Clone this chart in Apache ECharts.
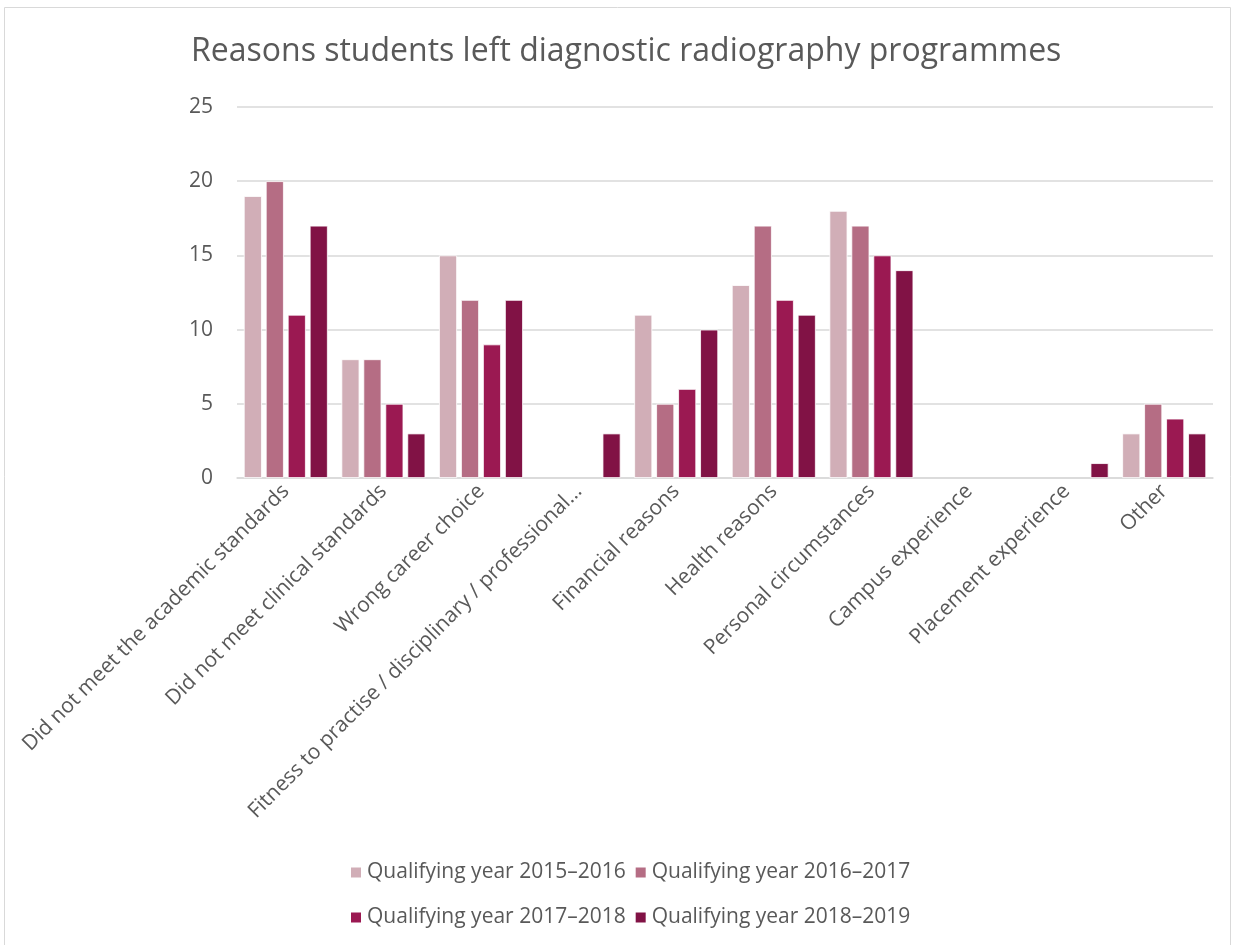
<!DOCTYPE html>
<html><head><meta charset="utf-8">
<script src="https://cdn.jsdelivr.net/npm/echarts@6/dist/echarts.min.js"></script>
<style>html,body{margin:0;padding:0;background:#fff}#c{width:1239px;height:945px}</style>
</head><body><div id="c"></div>
<script>
const categories = [
  "Did not meet the academic standards",
  "Did not meet clinical standards",
  "Wrong career choice",
  "Fitness to practise / disciplinary / professional…",
  "Financial reasons",
  "Health reasons",
  "Personal circumstances",
  "Campus experience",
  "Placement experience",
  "Other"
];
const seriesNames = [
  "Qualifying year 2015–2016",
  "Qualifying year 2016–2017",
  "Qualifying year 2017–2018",
  "Qualifying year 2018–2019"
];
const y2015 = [19, 8, 15, null, 11, 13, 18, null, null, 3];
const y2016 = [20, 8, 12, null, 5, 17, 17, null, null, 5];
const y2017 = [11, 5, 9, null, 6, 12, 15, null, null, 4];
const y2018 = [17, 3, 12, 3, 10, 11, 14, null, 1, 3];
const yTicks = [0, 5, 10, 15, 20, 25];

const colors = ["#D1AEB7", "#B56D84", "#9B1952", "#811245"];
const values = [y2015, y2016, y2017, y2018];
const font = "'Open Sans', 'Liberation Sans', sans-serif";
const chart = echarts.init(document.getElementById('c'));
chart.setOption({
  animation: false,
  color: colors,
  title: {
    text: "Reasons students left diagnostic radiography programmes",
    left: 186, top: 31,
    textStyle: {fontFamily: font, fontSize: 32, fontWeight: 'normal', color: '#595959'}
  },
  graphic: [{type: 'rect', shape: {x: 4.5, y: 7.5, width: 1226, height: 945}, style: {fill: 'none', stroke: '#d9d9d9', lineWidth: 1}, silent: true}],
  legend: [
    {data: seriesNames.slice(0, 2), left: 344, top: 857, itemWidth: 12, itemHeight: 12, itemGap: 8, icon: 'rect',
     textStyle: {fontFamily: font, fontSize: 21, color: '#595959'}},
    {data: seriesNames.slice(2, 4), left: 344, top: 902, itemWidth: 12, itemHeight: 12, itemGap: 8, icon: 'rect',
     textStyle: {fontFamily: font, fontSize: 21, color: '#595959'}}
  ],
  grid: {left: 237, right: 26, top: 107, bottom: 467, containLabel: false},
  xAxis: {
    type: 'category', data: categories,
    axisLine: {lineStyle: {color: '#d9d9d9', width: 1.5}},
    axisTick: {show: false},
    axisLabel: {rotate: 45, interval: 0, margin: 10, fontFamily: font, fontSize: 21, color: '#595959'}
  },
  yAxis: {
    type: 'value', min: yTicks[0], max: yTicks[yTicks.length - 1], interval: 5,
    axisLine: {show: false}, axisTick: {show: false},
    splitLine: {lineStyle: {color: '#d9d9d9', width: 1.5}},
    axisLabel: {margin: 24, fontFamily: font, fontSize: 21, color: '#595959'}
  },
  series: values.map((v, i) => ({
    name: seriesNames[i], type: 'bar', data: v,
    barGap: '22%', barCategoryGap: '14%',
    itemStyle: {color: colors[i], borderColor: '#fff', borderWidth: 0.8}
  }))
});
</script></body></html>
